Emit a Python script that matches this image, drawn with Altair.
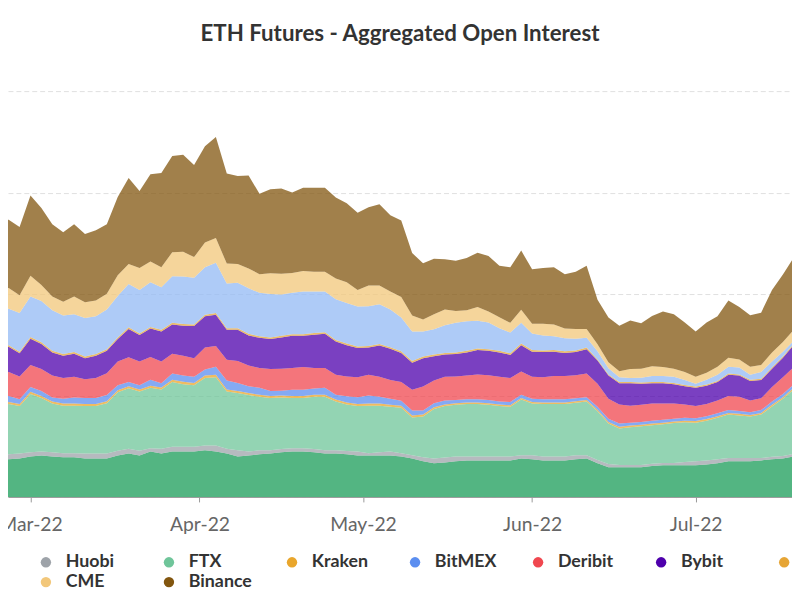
import altair as alt
import pandas as pd

# sampling dates (every 2 days, Feb 23 -> Jul 19, 2022)
dates = pd.date_range("2022-02-23", periods=74, freq="2D").strftime("%Y-%m-%d").tolist()

names = ["OKX", "Huobi", "FTX", "Kraken", "BitMEX", "Deribit", "Bybit",
         "Bitget", "Bitfinex", "CME", "Binance"]
colors = ["#1a9c58", "#9ea3a9", "#6fc59a", "#e9a62c", "#5b8ef0", "#f0474f",
          "#4e00ac", "#e6a535", "#93baf4", "#f2c77a", "#82560f"]

# open interest, $B
okx = [0.90, 0.93, 0.95, 1.00, 1.02, 1.00, 0.98, 0.98, 0.95, 0.95,
       0.95, 1.02, 1.07, 1.02, 1.12, 1.07, 1.12, 1.12, 1.12, 1.15,
       1.12, 1.07, 1.00, 1.02, 1.05, 1.07, 1.10, 1.12, 1.12, 1.10,
       1.07, 1.07, 1.05, 1.02, 1.02, 1.02, 1.02, 1.00, 0.95, 0.88,
       0.83, 0.85, 0.88, 0.90, 0.90, 0.90, 0.90, 0.90, 0.95, 0.93,
       0.90, 0.90, 0.90, 0.93, 0.95, 0.83, 0.73, 0.73, 0.73, 0.73,
       0.76, 0.78, 0.78, 0.78, 0.78, 0.80, 0.83, 0.88, 0.88, 0.88,
       0.90, 0.93, 0.95, 1.00]
huobi = [0.12, 0.12, 0.12, 0.10, 0.10, 0.10, 0.10, 0.10, 0.12, 0.12,
         0.12, 0.12, 0.12, 0.12, 0.08, 0.12, 0.12, 0.12, 0.12, 0.12,
         0.15, 0.12, 0.15, 0.10, 0.10, 0.08, 0.08, 0.08, 0.08, 0.08,
         0.08, 0.08, 0.08, 0.10, 0.06, 0.08, 0.10, 0.08, 0.08, 0.10,
         0.12, 0.12, 0.12, 0.10, 0.10, 0.10, 0.10, 0.10, 0.08, 0.10,
         0.10, 0.10, 0.10, 0.10, 0.08, 0.08, 0.08, 0.06, 0.06, 0.06,
         0.06, 0.06, 0.06, 0.08, 0.10, 0.10, 0.10, 0.08, 0.08, 0.08,
         0.06, 0.06, 0.06, 0.06]
ftx = [1.22, 1.24, 1.17, 1.44, 1.32, 1.20, 1.17, 1.17, 1.17, 1.17,
       1.24, 1.44, 1.49, 1.46, 1.49, 1.46, 1.59, 1.54, 1.51, 1.66,
       1.68, 1.41, 1.41, 1.39, 1.32, 1.29, 1.27, 1.24, 1.24, 1.29,
       1.32, 1.20, 1.15, 1.12, 1.17, 1.15, 1.10, 1.12, 0.93, 1.00,
       1.22, 1.27, 1.27, 1.29, 1.29, 1.27, 1.24, 1.22, 1.37, 1.27,
       1.29, 1.29, 1.29, 1.29, 1.32, 1.20, 1.00, 0.90, 0.93, 0.95,
       0.95, 0.95, 0.98, 0.98, 0.95, 0.98, 1.02, 1.07, 1.05, 1.02,
       1.07, 1.24, 1.41, 1.59]
kraken = [0.05, 0.05, 0.05, 0.05, 0.05, 0.05, 0.05, 0.05, 0.05, 0.05,
          0.05, 0.05, 0.05, 0.05, 0.05, 0.05, 0.06, 0.06, 0.06, 0.06,
          0.06, 0.05, 0.05, 0.05, 0.05, 0.05, 0.05, 0.05, 0.05, 0.05,
          0.05, 0.05, 0.05, 0.05, 0.05, 0.05, 0.05, 0.05, 0.05, 0.05,
          0.04, 0.04, 0.04, 0.04, 0.04, 0.04, 0.04, 0.04, 0.04, 0.04,
          0.04, 0.04, 0.04, 0.04, 0.04, 0.04, 0.04, 0.04, 0.04, 0.04,
          0.04, 0.04, 0.04, 0.04, 0.04, 0.04, 0.04, 0.04, 0.04, 0.04,
          0.04, 0.04, 0.04, 0.04]
bitmex = [0.17, 0.15, 0.12, 0.12, 0.12, 0.10, 0.12, 0.15, 0.15, 0.15,
          0.15, 0.12, 0.10, 0.10, 0.15, 0.10, 0.15, 0.15, 0.15, 0.15,
          0.20, 0.22, 0.20, 0.17, 0.17, 0.12, 0.12, 0.15, 0.15, 0.15,
          0.17, 0.12, 0.15, 0.17, 0.20, 0.17, 0.15, 0.12, 0.12, 0.10,
          0.10, 0.10, 0.08, 0.08, 0.08, 0.08, 0.07, 0.08, 0.08, 0.08,
          0.08, 0.08, 0.08, 0.07, 0.07, 0.07, 0.08, 0.08, 0.07, 0.07,
          0.07, 0.07, 0.07, 0.07, 0.07, 0.07, 0.07, 0.07, 0.07, 0.07,
          0.07, 0.08, 0.08, 0.08]
deribit = [0.56, 0.59, 0.56, 0.54, 0.54, 0.54, 0.51, 0.51, 0.46, 0.49,
           0.54, 0.59, 0.61, 0.59, 0.56, 0.54, 0.49, 0.49, 0.46, 0.54,
           0.51, 0.51, 0.54, 0.51, 0.49, 0.54, 0.54, 0.54, 0.56, 0.51,
           0.49, 0.49, 0.49, 0.49, 0.51, 0.49, 0.46, 0.46, 0.51, 0.59,
           0.56, 0.58, 0.58, 0.58, 0.61, 0.61, 0.61, 0.59, 0.57, 0.54,
           0.54, 0.57, 0.57, 0.57, 0.58, 0.57, 0.49, 0.47, 0.42, 0.42,
           0.42, 0.40, 0.37, 0.33, 0.30, 0.30, 0.32, 0.35, 0.35, 0.29,
           0.29, 0.36, 0.41, 0.43]
bybit = [0.62, 0.62, 0.57, 0.65, 0.62, 0.57, 0.55, 0.57, 0.52, 0.55,
         0.55, 0.55, 0.70, 0.65, 0.70, 0.74, 0.72, 0.74, 0.79, 0.77,
         0.77, 0.74, 0.77, 0.74, 0.74, 0.74, 0.77, 0.79, 0.77, 0.82,
         0.84, 0.82, 0.77, 0.72, 0.67, 0.77, 0.77, 0.72, 0.67, 0.70,
         0.60, 0.55, 0.55, 0.57, 0.60, 0.60, 0.60, 0.57, 0.65, 0.62,
         0.62, 0.60, 0.57, 0.57, 0.60, 0.57, 0.57, 0.52, 0.55, 0.52,
         0.50, 0.50, 0.48, 0.45, 0.45, 0.45, 0.45, 0.52, 0.52, 0.48,
         0.45, 0.45, 0.48, 0.55]
bitget = [0.04, 0.04, 0.04, 0.04, 0.04, 0.04, 0.04, 0.04, 0.04, 0.04,
          0.04, 0.04, 0.04, 0.04, 0.04, 0.04, 0.04, 0.04, 0.04, 0.04,
          0.04, 0.04, 0.04, 0.04, 0.04, 0.04, 0.04, 0.04, 0.04, 0.04,
          0.04, 0.04, 0.04, 0.04, 0.04, 0.04, 0.04, 0.04, 0.04, 0.04,
          0.04, 0.04, 0.04, 0.04, 0.04, 0.04, 0.04, 0.04, 0.04, 0.04,
          0.04, 0.04, 0.04, 0.04, 0.04, 0.03, 0.03, 0.03, 0.03, 0.03,
          0.03, 0.03, 0.03, 0.03, 0.03, 0.03, 0.03, 0.03, 0.03, 0.03,
          0.03, 0.03, 0.03, 0.03]
bitfinex = [0.93, 0.90, 0.95, 1.00, 1.02, 1.00, 0.95, 0.93, 0.95, 0.93,
            0.98, 1.02, 1.07, 1.07, 1.10, 1.05, 1.15, 1.17, 1.15, 1.17,
            1.24, 1.10, 1.12, 1.12, 1.07, 1.07, 1.02, 1.02, 1.05, 1.02,
            1.00, 1.00, 1.00, 0.98, 0.98, 0.98, 0.93, 0.83, 0.73, 0.62,
            0.62, 0.68, 0.73, 0.73, 0.68, 0.66, 0.56, 0.51, 0.51, 0.41,
            0.37, 0.34, 0.32, 0.29, 0.24, 0.20, 0.15, 0.12, 0.10, 0.12,
            0.15, 0.15, 0.15, 0.12, 0.07, 0.12, 0.15, 0.17, 0.17, 0.12,
            0.17, 0.15, 0.12, 0.07]
cme = [0.51, 0.51, 0.44, 0.51, 0.39, 0.34, 0.34, 0.44, 0.39, 0.39,
       0.39, 0.51, 0.49, 0.54, 0.51, 0.49, 0.59, 0.61, 0.51, 0.61,
       0.61, 0.49, 0.46, 0.49, 0.46, 0.51, 0.51, 0.49, 0.51, 0.49,
       0.49, 0.51, 0.51, 0.41, 0.51, 0.46, 0.44, 0.51, 0.39, 0.29,
       0.37, 0.39, 0.29, 0.27, 0.34, 0.27, 0.27, 0.24, 0.32, 0.24,
       0.29, 0.29, 0.24, 0.24, 0.22, 0.17, 0.15, 0.15, 0.22, 0.22,
       0.24, 0.22, 0.20, 0.20, 0.17, 0.17, 0.20, 0.22, 0.20, 0.20,
       0.17, 0.22, 0.24, 0.27]
binance = [1.68, 1.68, 1.68, 1.98, 1.90, 1.78, 1.71, 1.78, 1.68, 1.73,
           1.71, 1.93, 2.12, 1.90, 2.15, 2.32, 2.37, 2.39, 2.27, 2.37,
           2.49, 2.22, 2.17, 2.29, 1.98, 2.07, 2.10, 1.98, 2.05, 2.07,
           2.07, 2.00, 1.95, 1.90, 1.93, 2.00, 1.88, 1.88, 1.54, 1.39,
           1.37, 1.24, 1.24, 1.29, 1.34, 1.37, 1.27, 1.37, 1.46, 1.34,
           1.37, 1.41, 1.34, 1.41, 1.56, 1.10, 1.10, 1.12, 1.20, 1.12,
           1.24, 1.37, 1.34, 1.22, 1.12, 1.24, 1.24, 1.41, 1.29, 1.27,
           1.29, 1.54, 1.66, 1.78]

series = [okx, huobi, ftx, kraken, bitmex, deribit, bybit, bitget,
          bitfinex, cme, binance]

rows = []
for k, (n, vals) in enumerate(zip(names, series)):
    for d, v in zip(dates, vals):
        rows.append({"date": d, "exchange": n, "oi": v, "order": k})
df = pd.DataFrame(rows)

month_ticks = [alt.DateTime(year=2022, month=m, date=1, utc=True) for m in [3, 4, 5, 6, 7]]

chart = alt.Chart(df).mark_area(fillOpacity=0.75, clip=True, interpolate="linear").encode(
    x=alt.X(
        "date:T",
        scale=alt.Scale(
            type="utc",
            domain=[alt.DateTime(year=2022, month=2, date=24, hours=21, utc=True),
                    alt.DateTime(year=2022, month=7, date=18, hours=16, utc=True)],
        ),
        axis=alt.Axis(
            title=None, values=month_ticks,
            labelExpr="utcFormat(datum.value, '%b-%y')",
            grid=False, domainColor="#999999", tickColor="#999999", tickSize=5,
            labelFont="Lato", labelFontSize=19.5, labelColor="#666666",
            labelPadding=14, labelFlush=False, labelOverlap=False,
        ),
    ),
    y=alt.Y(
        "oi:Q", stack="zero",
        scale=alt.Scale(domain=[0, 10], nice=False),
        axis=alt.Axis(
            title=None, values=[0, 2.5, 5, 7.5, 10], labels=False, ticks=False,
            domain=False, grid=True, gridDash=[5, 3], gridColor="#e0e0e0",
        ),
    ),
    color=alt.Color(
        "exchange:N",
        scale=alt.Scale(domain=names, range=colors),
        sort=names,
        legend=alt.Legend(
            title=None, orient="none", legendX=-95, legendY=467,
            direction="horizontal", columns=8, gridAlign="all",
            symbolType="circle", symbolSize=110, symbolOpacity=1,
            symbolStrokeWidth=0, labelFont="Lato", labelFontSize=18,
            labelFontWeight="bold", labelColor="#333333", labelOffset=11,
            columnPadding=31.3, rowPadding=2, labelLimit=300, padding=0,
        ),
    ),
    order=alt.Order("order:Q", sort="ascending"),
).properties(
    width=792,
    height=410,
    autosize=alt.AutoSizeParams(type="none"),
    padding={"left": 0, "top": 81, "right": 0, "bottom": 89},
    title=alt.TitleParams(
        "ETH Futures - Aggregated Open Interest",
        font="Lato", fontSize=22.5, fontWeight="bold", color="#333333",
        anchor="middle", offset=46,
    ),
).configure_view(stroke=None)

chart.save("out.html", embed_options={"renderer": "svg", "actions": False})
